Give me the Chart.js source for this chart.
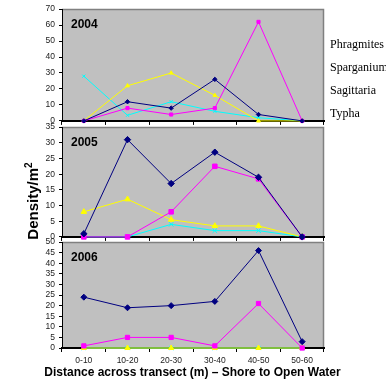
<!DOCTYPE html>
<html>
<head>
<meta charset="utf-8">
<script src="https://cdn.jsdelivr.net/npm/chart.js@4.4.1/dist/chart.umd.min.js"></script>
<style>
  html, body { margin: 0; padding: 0; background: #fff; }
  body { width: 386px; height: 380px; position: relative; overflow: hidden; }
  canvas { position: absolute; left: 0; }
  #legend {
    position: absolute; left: 330px; top: 33px;
    font: 12px "Liberation Serif", "Times New Roman", serif;
    line-height: 23px; white-space: nowrap; color: #000;
  }
  #ytitle {
    position: absolute; left: -17px; top: 192px; width: 100px; height: 18px;
    line-height: 18px; text-align: center; transform: rotate(-90deg);
    font: bold 15px "Liberation Sans", Arial, sans-serif; color: #000;
  }
  #ytitle sup { font-size: 10px; line-height: 0; }
  #xtitle {
    position: absolute; left: 0; top: 365px; width: 386px; height: 16px;
    line-height: 16px; text-align: center; white-space: nowrap; text-indent: -1px;
    font: bold 12px "Liberation Sans", Arial, sans-serif; color: #000;
  }
</style>
</head>
<body>
<canvas id="c2004" width="386" height="130" style="top:0px"></canvas>
<canvas id="c2005" width="386" height="128" style="top:118px"></canvas>
<canvas id="c2006" width="386" height="147" style="top:233px"></canvas>
<div id="legend"></div>
<div id="ytitle">Density/m<sup>2</sup></div>
<div id="xtitle"></div>
<script>
// categories along the transect
const categories = ['0-10', '10-20', '20-30', '30-40', '40-50', '50-60'];
const species = ['Phragmites', 'Sparganium', 'Sagittaria', 'Typha'];
const xTitle = 'Distance across transect (m) \u2013 Shore to Open Water';

// 2004 densities
const phragmites2004 = [0, 12, 8, 26, 4, 0];
const sparganium2004 = [0, 8, 4, 8, 62, 0];
const sagittaria2004 = [0, 22, 30, 16, 0, 0];
const typha2004 = [28, 3.5, 12, 6, 2, 0];

// 2005 densities
const phragmites2005 = [1, 31, 17, 27, 19, 0];
const sparganium2005 = [0, 0, 8, 22.5, 18.5, 0];
const sagittaria2005 = [8, 12, 5.5, 3.5, 3.5, 0];
const typha2005 = [0, 0, 4, 2, 2, 0];

// 2006 densities
const phragmites2006 = [24, 19, 20, 22, 46, 3];
const sparganium2006 = [1, 5, 5, 1, 21, 0];
const sagittaria2006 = [0, 0, 0, 0, 0, 0];
const typha2006 = [0, 0, 0, 0, 0, 0];

const colors = ['#000080', '#ff00ff', '#ffff00', '#00ffff'];
const markers = ['rectRot', 'rect', 'triangle', 'crossRot'];

Chart.defaults.font.family = '"Liberation Sans", Arial, sans-serif';

document.getElementById('legend').innerHTML = species.map(s => '<div>' + s + '</div>').join('');
// the axis title is wider than the plot, Chart.js would squeeze it, so it sits in a div
document.getElementById('xtitle').textContent = xTitle;

// grey plot area + year label
const plotBg = {
  id: 'plotBg',
  beforeDraw(chart) {
    const { ctx, chartArea: a } = chart;
    ctx.save();
    ctx.fillStyle = '#c0c0c0';
    ctx.fillRect(a.left, a.top, a.right - a.left, a.bottom - a.top);
    ctx.strokeStyle = '#808080';
    ctx.lineWidth = 1.5;
    ctx.beginPath();
    ctx.moveTo(a.left, a.top + 0.5);
    ctx.lineTo(a.right - 0.5, a.top + 0.5);
    ctx.lineTo(a.right - 0.5, a.bottom);
    ctx.stroke();
    ctx.restore();
  },
  afterDraw(chart) {
    const opts = chart.options.plugins.plotBg;
    const { ctx, chartArea: a } = chart;
    ctx.save();
    ctx.font = 'bold 12px "Liberation Sans", Arial, sans-serif';
    ctx.fillStyle = '#000';
    ctx.textBaseline = 'alphabetic';
    ctx.fillText(opts.year, a.left + 9, a.top + 19);
    ctx.restore();
  }
};

function makePanel(id, year, series, yMax, step, opts) {
  const datasets = series.map((vals, i) => ({
    label: species[i],
    data: vals,
    borderColor: colors[i],
    backgroundColor: colors[i],
    borderWidth: 1,
    pointStyle: markers[i],
    pointRadius: opts.radius,
    pointBorderWidth: 1,
    clip: false
  }));

  return new Chart(document.getElementById(id), {
    type: 'line',
    data: { labels: categories, datasets },
    plugins: [plotBg],
    options: {
      responsive: false,
      animation: false,
      layout: { padding: { top: opts.padTop, right: 62, left: 0, bottom: 0 } },
      plugins: {
        legend: { display: false },
        tooltip: { enabled: false },
        plotBg: { year }
      },
      scales: {
        x: {
          offset: true,
          grid: { offset: true, drawOnChartArea: false, tickLength: 4, color: '#000' },
          border: { color: '#000', width: 2 },
          ticks: { display: opts.showLabels, color: '#222', font: { size: 8.5 }, padding: 4, maxRotation: 0 },
          afterFit(scale) { scale.height = opts.xHeight; }
        },
        y: {
          min: 0,
          max: yMax,
          ticks: { stepSize: step, autoSkip: false, color: '#222', font: { size: 8.5 }, padding: 4 },
          grid: { drawOnChartArea: false, tickLength: 3, color: '#000' },
          border: { color: '#000', width: 1 },
          afterFit(scale) { scale.width = 62; }
        }
      }
    }
  });
}

makePanel('c2004', '2004', [phragmites2004, sparganium2004, sagittaria2004, typha2004], 70, 10,
  { padTop: 9, xHeight: 8, radius: 2.2, showLabels: false });
makePanel('c2005', '2005', [phragmites2005, sparganium2005, sagittaria2005, typha2005], 35, 5,
  { padTop: 8, xHeight: 8, radius: 3.2, showLabels: false });
makePanel('c2006', '2006', [phragmites2006, sparganium2006, sagittaria2006, typha2006], 50, 5,
  { padTop: 8, xHeight: 32, radius: 3, showLabels: true });
</script>
</body>
</html>
